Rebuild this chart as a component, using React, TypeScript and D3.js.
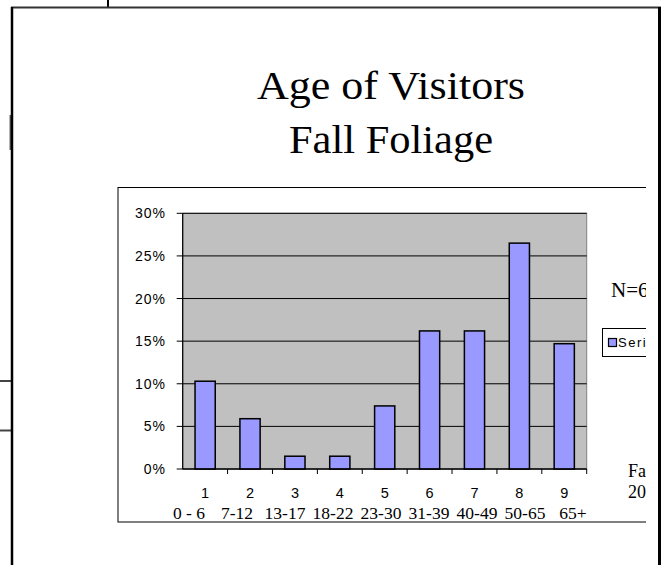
import React from "react";
import * as d3 from "d3";

const categories = ["1", "2", "3", "4", "5", "6", "7", "8", "9"];
const ageRanges = ["0 - 6", "7-12", "13-17", "18-22", "23-30", "31-39", "40-49", "50-65", "65+"];
const shares = [0.103, 0.059, 0.015, 0.015, 0.074, 0.162, 0.162, 0.265, 0.147];
const yTicks = [0, 0.05, 0.1, 0.15, 0.2, 0.25, 0.3];
const titleLines = ["Age of Visitors", "Fall Foliage"];
const seriesName = "Series1";
const noteN = "N=68";
const noteSeason = ["Fall", "2007"];

const SANS = "'Liberation Sans', Arial, sans-serif";
const SERIF = "'Liberation Serif', 'Times New Roman', serif";

export default function App() {
  const W = 665, H = 565;
  const plot = { left: 182.7, right: 586.7, top: 213.3, bottom: 469 };
  const x = d3.scaleBand<string>().domain(categories).range([plot.left, plot.right]).paddingInner(0.55).paddingOuter(0.275);
  const xStep = d3.scaleBand<string>().domain(categories).range([plot.left, plot.right]);
  const y = d3.scaleLinear().domain([0, 0.3]).range([plot.bottom, plot.top]);
  const rangePos = d3.scalePoint<string>().domain(ageRanges).range([189, 573]);
  const fmt = d3.format(".0%");

  return (
    <svg width={W} height={H} style={{ position: "absolute", left: 0, top: 0, background: "#fff" }}>
      <defs>
        <clipPath id="chartClip">
          <rect x={0} y={0} width={646} height={H} />
        </clipPath>
      </defs>
      {/* slide artifacts */}
      <line x1={108} y1={0} x2={108} y2={8} stroke="#000" strokeWidth={2} />
      <line x1={10.3} y1={115} x2={10.3} y2={150} stroke="#555" strokeWidth={1.5} />
      <line x1={0} y1={381} x2={12} y2={381} stroke="#444" strokeWidth={2} />
      <line x1={0} y1={430.5} x2={12} y2={430.5} stroke="#444" strokeWidth={2} />
      {/* frame */}
      <line x1={11} y1={7.5} x2={661} y2={7.5} stroke="#333" strokeWidth={2} />
      <line x1={12} y1={7} x2={12} y2={H} stroke="#000" strokeWidth={2.5} />
      <line x1={659.5} y1={7} x2={659.5} y2={H} stroke="#000" strokeWidth={3} />

      {/* title */}
      {titleLines.map((t, i) => (
        <text key={t} x={391} y={99 + i * 54} textAnchor="middle" fontFamily={SERIF} fontSize={40}
          textLength={i === 0 ? 268 : 204} lengthAdjust="spacingAndGlyphs">
          {t}
        </text>
      ))}

      <g clipPath="url(#chartClip)">
        {/* chart area box */}
        <rect x={118} y={187.5} width={560} height={334.5} fill="#fff" stroke="#000" strokeWidth={1} />
        {/* plot area */}
        <rect x={plot.left} y={plot.top} width={plot.right - plot.left} height={plot.bottom - plot.top} fill="#C0C0C0" stroke="#808080" strokeWidth={1} />
        {yTicks.map((t) => (
          <line key={t} x1={plot.left} x2={plot.right} y1={y(t)} y2={y(t)} stroke="#000" strokeWidth={1} />
        ))}
        {/* bars */}
        {categories.map((c, i) => (
          <rect key={c} x={x(c)} y={y(shares[i])} width={x.bandwidth()} height={plot.bottom - y(shares[i])}
            fill="#9999FF" stroke="#000" strokeWidth={1.5} />
        ))}
        {/* axes */}
        <line x1={plot.left} x2={plot.left} y1={plot.top} y2={plot.bottom} stroke="#000" strokeWidth={1.2} />
        <line x1={plot.left} x2={plot.right} y1={plot.bottom} y2={plot.bottom} stroke="#000" strokeWidth={1.2} />
        {yTicks.map((t) => (
          <g key={"yt" + t}>
            <line x1={plot.left - 6} x2={plot.left} y1={y(t)} y2={y(t)} stroke="#000" strokeWidth={1} />
            <text x={166} y={y(t) + 5} textAnchor="end" fontFamily={SANS} fontSize={14} letterSpacing={1}>{fmt(t)}</text>
          </g>
        ))}
        {categories.map((c) => (
          <line key={"xt" + c} x1={xStep(c)! + xStep.bandwidth()} x2={xStep(c)! + xStep.bandwidth()} y1={plot.bottom} y2={plot.bottom + 5} stroke="#000" strokeWidth={1} />
        ))}
        {categories.map((c) => (
          <text key={"xl" + c} x={xStep(c)! + xStep.bandwidth() / 2} y={498} textAnchor="middle" fontFamily={SANS} fontSize={14.5}>{c}</text>
        ))}
        {ageRanges.map((r) => (
          <text key={r} x={rangePos(r)} y={519} textAnchor="middle" fontFamily={SERIF} fontSize={17.5}>{r}</text>
        ))}
        {/* side notes */}
        <text x={611} y={297} fontFamily={SERIF} fontSize={21}>{noteN}</text>
        <rect x={602.5} y={328.5} width={80} height={28} fill="#fff" stroke="#000" strokeWidth={1} />
        <rect x={608.5} y={338.5} width={8} height={8} fill="#9999FF" stroke="#000" strokeWidth={1.2} />
        <text x={618} y={346.5} fontFamily={SANS} fontSize={13} letterSpacing={1.5}>{seriesName}</text>
        {noteSeason.map((t, i) => (
          <text key={t} x={628} y={477 + i * 21} fontFamily={SERIF} fontSize={18}>{t}</text>
        ))}
      </g>
    </svg>
  );
}
